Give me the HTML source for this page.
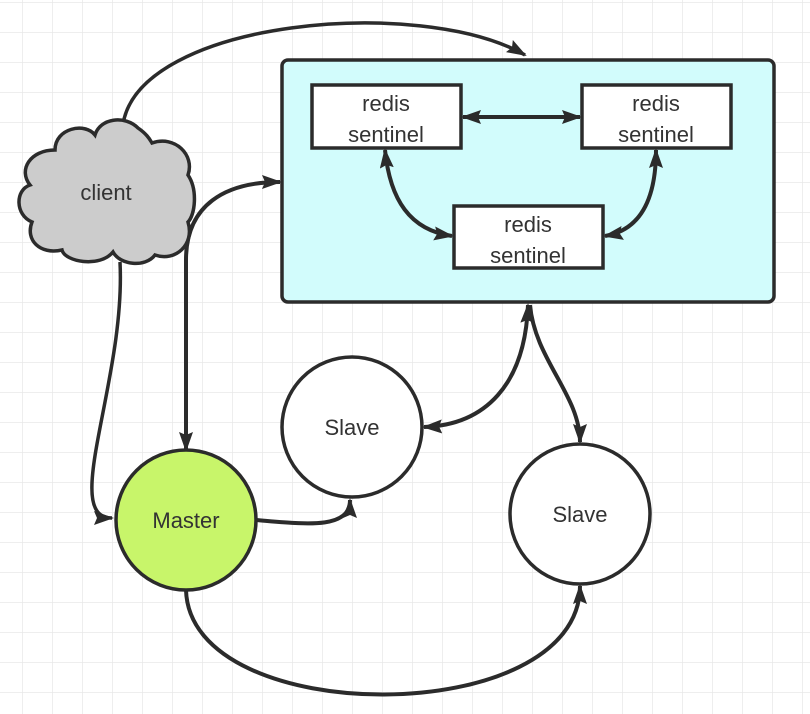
<!DOCTYPE html>
<html><head><meta charset="utf-8"><style>
html,body{margin:0;padding:0;background:#fff;}
svg{display:block;}
text{font-family:"Liberation Sans",sans-serif;fill:#333;font-size:22px;text-anchor:middle;}
</style></head><body>
<svg width="810" height="714" viewBox="0 0 810 714" xmlns="http://www.w3.org/2000/svg">
<defs>
<pattern id="g" x="22" y="2" width="30" height="30" patternUnits="userSpaceOnUse">
<path d="M0,0 V30 M0,0 H30" stroke="#e8e8e8" stroke-width="1.5" fill="none"/>
</pattern>
<marker id="a" viewBox="0 0 20 14" refX="18" refY="7" markerWidth="20" markerHeight="14" orient="auto-start-reverse" markerUnits="userSpaceOnUse">
<path d="M0,0 L20,7 L0,14 L3,7 z" fill="#2b2b2b"/>
</marker>
</defs>
<rect width="810" height="714" fill="url(#g)"/>
<g fill="none" stroke="#2b2b2b" stroke-width="4">
<path d="M123,124 C140,20 420,-5 525,55" stroke-width="3.5" marker-end="url(#a)"/>
<path d="M120,262 C126,380 60,518 112,518" stroke-width="3.5" marker-end="url(#a)"/>
<path d="M186,450 L186,260 C186,205 225,182 280,182" marker-start="url(#a)" marker-end="url(#a)"/>
<path d="M256,520 C305,524 350,530 350,500" marker-end="url(#a)"/>
<path d="M186,590 C190,730 580,730 580,586" marker-end="url(#a)"/>
<path d="M528,305 C525,385 485,425 424,427" marker-start="url(#a)" marker-end="url(#a)"/>
<path d="M530,305 C535,360 580,395 580,442" marker-end="url(#a)"/>
</g>
<rect x="282" y="60" width="492" height="242" rx="6" fill="#d2fcfc" stroke="#2b2b2b" stroke-width="3.5"/>
<g fill="none" stroke="#2b2b2b" stroke-width="4">
<path d="M463,117 L580,117" marker-start="url(#a)" marker-end="url(#a)"/>
<path d="M385,150 C390,200 410,230 452,236" marker-start="url(#a)" marker-end="url(#a)"/>
<path d="M656,150 C656,200 640,230 605,236" marker-start="url(#a)" marker-end="url(#a)"/>
</g>
<g fill="#fff" stroke="#2b2b2b" stroke-width="3.5">
<rect x="312" y="85" width="149" height="63"/>
<rect x="582" y="85" width="149" height="63"/>
<rect x="454" y="206" width="149" height="62"/>
</g>
<text x="386" y="111">redis</text><text x="386" y="142">sentinel</text>
<text x="656" y="111">redis</text><text x="656" y="142">sentinel</text>
<text x="528" y="232">redis</text><text x="528" y="263">sentinel</text>
<path d="M55,150 C55,128 85,122 95,135 C100,118 125,115 138,128 C148,135 150,140 152,143 C175,135 195,155 188,175 C198,190 195,215 188,222 C195,245 175,262 155,255 C145,268 120,265 113,252 C100,268 65,262 62,250 C40,255 25,240 32,222 C15,215 15,190 30,185 C18,170 30,150 55,150 Z" fill="#cccccc" stroke="#2b2b2b" stroke-width="3.5"/>
<text x="106" y="200">client</text>
<circle cx="186" cy="520" r="70" fill="#c8f56a" stroke="#2b2b2b" stroke-width="3.5"/>
<text x="186" y="528">Master</text>
<circle cx="352" cy="427" r="70" fill="#fff" stroke="#2b2b2b" stroke-width="3.5"/>
<text x="352" y="435">Slave</text>
<circle cx="580" cy="514" r="70" fill="#fff" stroke="#2b2b2b" stroke-width="3.5"/>
<text x="580" y="522">Slave</text>
</svg>
</body></html>
